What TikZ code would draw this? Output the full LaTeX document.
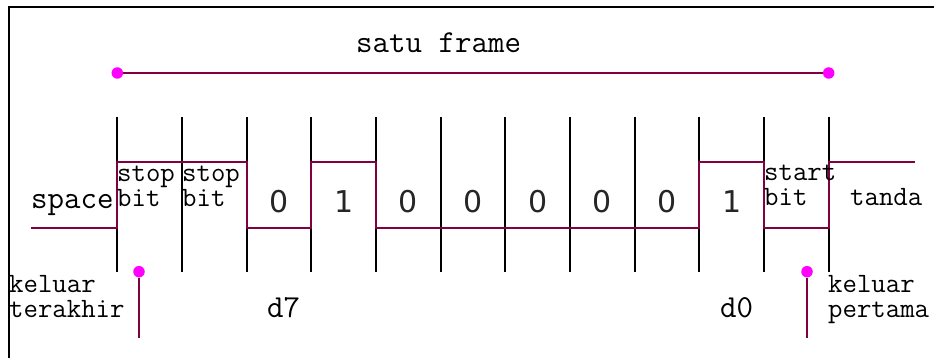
\documentclass[tikz,border=0pt]{standalone}
\usepackage{fontspec}
\newfontfamily\digitfont{DejaVu Sans}
\definecolor{sig}{HTML}{800040}
\definecolor{pin}{HTML}{FF00FF}
\begin{document}
\begin{tikzpicture}[x=1pt,y=-1pt,
  lbl/.style={inner sep=0pt,anchor=base west,align=left,font=\ttfamily\fontsize{28}{25}\selectfont},
  biglbl/.style={inner sep=0pt,anchor=base west,font=\ttfamily\fontsize{32}{32}\selectfont},
  bitval/.style={inner sep=0pt,anchor=base,font=\digitfont\fontsize{30}{30}\selectfont,text=black!85},
  tick/.style={draw=black,line width=1.8pt},
  wave/.style={draw=sig,line width=1.7pt},
  span/.style={draw=sig,line width=1.7pt},
  dot/.style={circle,fill=pin,inner sep=0pt,minimum size=11.5pt}]
\useasboundingbox (0,0) rectangle (934,358);
% outer frame (top and left edges)
\draw[line width=1.8pt] (9,358) -- (9,7) -- (934,7);

% bit-cell boundaries
\foreach \i in {0,...,11}{
  \coordinate (t\i) at ({117.3+64.67*\i},117);
  \coordinate (b\i) at ({117.3+64.67*\i},272);
  \draw[tick] (t\i) -- (b\i);
}

% one frame marker
\node[dot] (fl) at (117.3,73) {};
\node[dot] (fr) at (828.7,73) {};
\draw[span] (fl) -- (fr);
\node[biglbl] (frame) at (356,53) {satu frame};

% signal waveform
\def\hi{161.7}
\def\lo{227.7}
\draw[wave] (30.7,\lo) -- (117.3,\lo) -- (117.3,\hi) -- (246.7,\hi) -- (246.7,\lo)
  -- (311.3,\lo) -- (311.3,\hi) -- (376,\hi) -- (376,\lo) -- (699.3,\lo)
  -- (699.3,\hi) -- (764,\hi) -- (764,\lo) -- (828.7,\lo) -- (828.7,\hi) -- (915,\hi);

% labels inside the cells (anchored at the baseline of the last line)
\node[biglbl] (space) at (31,208) {space};
\node[lbl] (stop1) at (117,207) {stop\\bit};
\node[lbl] (stop2) at (182,207) {stop\\bit};
\node[lbl] (start) at (764,206) {start\\bit};
\node[lbl] (tanda) at (850,205) {tanda};
\foreach \v [count=\k from 2] in {0,1,0,0,0,0,0,1}{
  \node[bitval] (v\k) at ({117.3+64.67*\k+32.3},212) {\v};
}

% d7 / d0 markers
\node[biglbl] (d7) at (267,317) {d7};
\node[biglbl] (d0) at (720,317) {d0};

% first / last out pointers
\node[dot] (pl) at (139,271.7) {};
\coordinate (plb) at (139,338);
\draw[span] (pl) -- (plb);
\node[dot] (pr) at (807,271.7) {};
\coordinate (prb) at (807,338);
\draw[span] (pr) -- (prb);
\node[lbl] (kel1) at (9,317) {keluar\\terakhir};
\node[lbl] (kel2) at (828,317) {keluar\\pertama};
\end{tikzpicture}
\end{document}
